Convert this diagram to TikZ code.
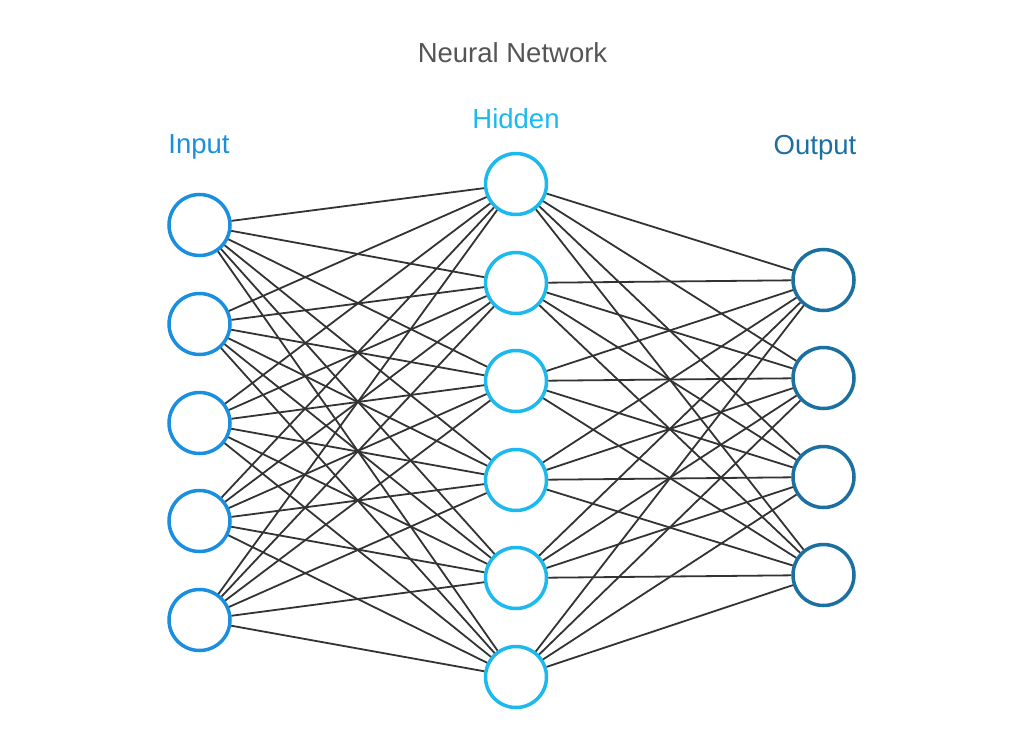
\documentclass[tikz,border=0pt]{standalone}
\usepackage{fontspec}
\setmainfont{Liberation Sans}
\definecolor{incol}{HTML}{1A8FDF}
\definecolor{hidcol}{HTML}{1CB9EE}
\definecolor{outcol}{HTML}{1B70A2}
\definecolor{titlecol}{HTML}{555555}
\definecolor{edgecol}{HTML}{333333}
\begin{document}
\begin{tikzpicture}[x=1pt,y=-1pt,
  neuron/.style={circle,draw,line width=3.5pt,fill=white,minimum size=61pt,inner sep=0pt},
  inneuron/.style={neuron,draw=incol},
  hidneuron/.style={neuron,draw=hidcol},
  outneuron/.style={neuron,draw=outcol},
  edge/.style={draw=edgecol,line width=1.8pt},
  lbl/.style={anchor=base,font=\fontsize{27.5}{32}\selectfont}]
\useasboundingbox[fill=white] (0,0) rectangle (1028,752);
\node[lbl,text=titlecol,font=\fontsize{27.5}{32}\selectfont] (title) at (512.5,63) {Neural Network};
\node[lbl,text=incol] (linput) at (199,153) {Input};
\node[lbl,text=hidcol] (lhidden) at (516,128) {Hidden};
\node[lbl,text=outcol] (loutput) at (815,154) {Output};
\foreach \i/\y in {1/225,2/324,3/423,4/521,5/620}
  \node[inneuron] (i\i) at (199.5,\y) {};
\foreach \h/\y in {1/184,2/283,3/381,4/480,5/578,6/677}
  \node[hidneuron] (h\h) at (516,\y) {};
\foreach \o/\y in {1/280,2/378,3/477,4/575}
  \node[outneuron] (o\o) at (823.5,\y) {};
\foreach \i in {1,...,5}
  \foreach \h in {1,...,6}
    \draw[edge] (i\i) -- (h\h);
\foreach \h in {1,...,6}
  \foreach \o in {1,...,4}
    \draw[edge] (h\h) -- (o\o);
\end{tikzpicture}
\end{document}
